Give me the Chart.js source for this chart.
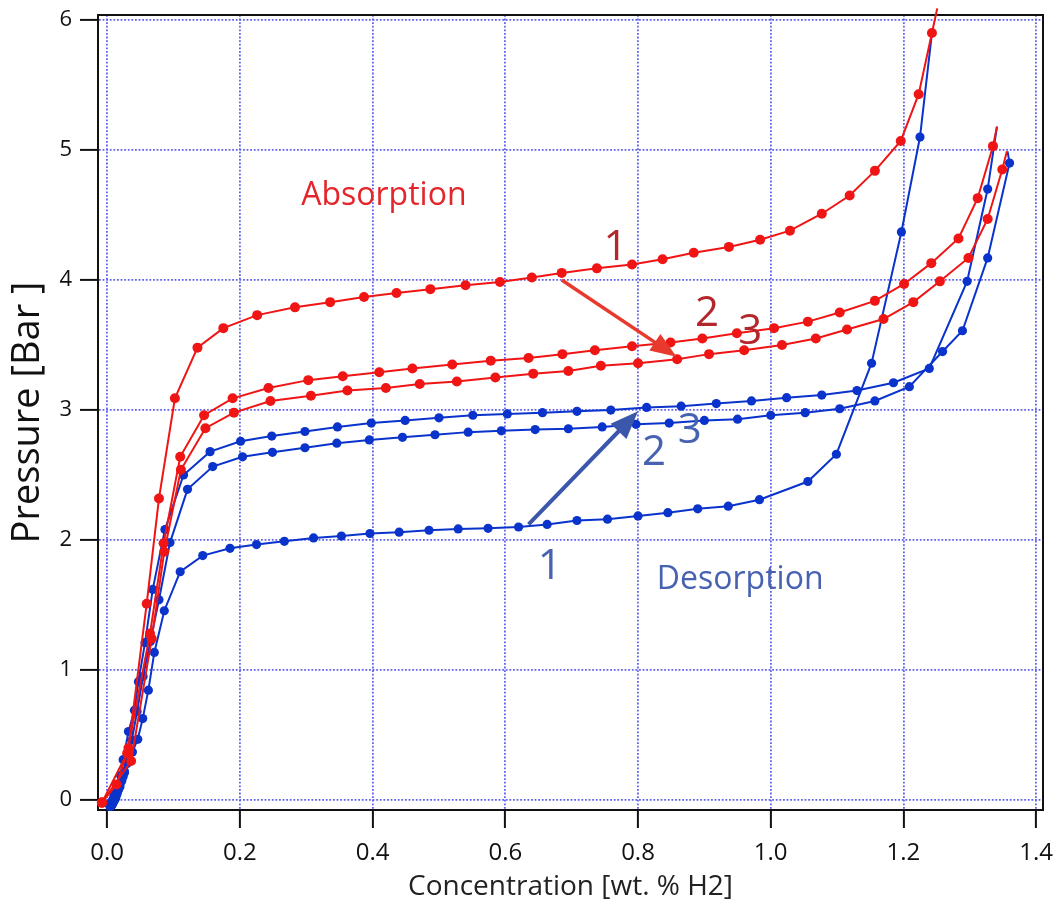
<!DOCTYPE html>
<html><head><meta charset="utf-8">
<script src="https://cdn.jsdelivr.net/npm/chart.js@4/dist/chart.umd.min.js"></script>
<style>html,body{margin:0;padding:0;background:#fff;}#wrap{width:1055px;height:905px;position:relative;}</style>
</head><body><div id="wrap"><canvas id="c"></canvas></div>
<script>
// ---- tick labels ----
const xTicks = [0, 0.2, 0.4, 0.6, 0.8, 1.0, 1.2, 1.4];
const yTicks = [0, 1, 2, 3, 4, 5, 6];

// ---- series values [concentration wt.% H2, pressure bar] ----
const absorption1 = [[-0.008,-0.02],[0.014,0.12],[0.032,0.40],[0.0595,1.51],[0.078,2.32],[0.102,3.09],[0.136,3.48],[0.175,3.63],[0.226,3.73],[0.283,3.79],[0.336,3.83],[0.387,3.87],[0.436,3.90],[0.487,3.93],[0.540,3.96],[0.592,3.985],[0.640,4.02],[0.685,4.055],[0.738,4.09],[0.791,4.12],[0.837,4.16],[0.884,4.21],[0.937,4.255],[0.984,4.31],[1.029,4.38],[1.077,4.51],[1.119,4.65],[1.157,4.84],[1.196,5.07],[1.223,5.43],[1.243,5.90],[1.251,6.09]];
const absorption2 = [[-0.008,-0.02],[0.030,0.36],[0.0645,1.28],[0.085,1.975],[0.110,2.64],[0.146,2.96],[0.189,3.09],[0.243,3.17],[0.303,3.23],[0.355,3.26],[0.410,3.29],[0.460,3.32],[0.520,3.35],[0.578,3.38],[0.635,3.40],[0.686,3.43],[0.735,3.46],[0.791,3.49],[0.849,3.52],[0.897,3.55],[0.949,3.59],[1.005,3.63],[1.056,3.68],[1.104,3.75],[1.157,3.84],[1.201,3.97],[1.242,4.13],[1.283,4.32],[1.312,4.63],[1.335,5.03],[1.341,5.18]];
const absorption3 = [[-0.008,-0.02],[0.036,0.30],[0.067,1.24],[0.086,1.91],[0.111,2.54],[0.148,2.86],[0.191,2.98],[0.246,3.07],[0.307,3.11],[0.362,3.15],[0.420,3.17],[0.471,3.20],[0.527,3.22],[0.585,3.25],[0.642,3.28],[0.695,3.30],[0.744,3.34],[0.800,3.36],[0.859,3.39],[0.907,3.43],[0.960,3.46],[1.017,3.50],[1.068,3.55],[1.115,3.62],[1.170,3.70],[1.215,3.83],[1.255,3.99],[1.298,4.17],[1.327,4.47],[1.349,4.85],[1.356,4.99]];
const desorption1 = [[0.004,-0.05],[0.006,-0.04],[0.008,-0.03],[0.010,-0.01],[0.012,0.01],[0.014,0.04],[0.016,0.07],[0.019,0.10],[0.022,0.15],[0.026,0.21],[0.030,0.28],[0.038,0.37],[0.046,0.467],[0.0535,0.626],[0.062,0.845],[0.071,1.135],[0.086,1.456],[0.110,1.756],[0.144,1.88],[0.185,1.936],[0.225,1.965],[0.267,1.99],[0.311,2.016],[0.353,2.03],[0.396,2.05],[0.440,2.06],[0.485,2.075],[0.529,2.085],[0.574,2.09],[0.620,2.10],[0.663,2.12],[0.708,2.15],[0.754,2.16],[0.800,2.185],[0.845,2.21],[0.890,2.24],[0.936,2.26],[0.983,2.31],[1.056,2.45],[1.099,2.66],[1.152,3.36],[1.197,4.37],[1.225,5.10],[1.243,5.90]];
const desorption2 = [[0.004,-0.04],[0.006,-0.02],[0.008,0.00],[0.010,0.03],[0.012,0.05],[0.014,0.08],[0.016,0.11],[0.020,0.19],[0.024,0.31],[0.032,0.526],[0.041,0.69],[0.047,0.91],[0.057,1.21],[0.0686,1.62],[0.087,2.08],[0.115,2.50],[0.155,2.68],[0.201,2.76],[0.248,2.80],[0.298,2.835],[0.347,2.87],[0.398,2.90],[0.449,2.92],[0.500,2.94],[0.551,2.96],[0.603,2.97],[0.656,2.98],[0.708,2.99],[0.759,3.00],[0.813,3.02],[0.865,3.03],[0.918,3.05],[0.971,3.07],[1.024,3.095],[1.077,3.115],[1.130,3.15],[1.185,3.21],[1.239,3.32],[1.296,3.99],[1.327,4.70],[1.341,5.18]];
const desorption3 = [[0.005,-0.05],[0.007,-0.04],[0.009,-0.02],[0.011,0.00],[0.013,0.02],[0.015,0.05],[0.017,0.08],[0.019,0.11],[0.021,0.14],[0.024,0.18],[0.026,0.22],[0.031,0.32],[0.037,0.46],[0.045,0.68],[0.054,0.95],[0.065,1.22],[0.078,1.54],[0.0946,1.98],[0.121,2.39],[0.159,2.565],[0.204,2.64],[0.249,2.675],[0.298,2.71],[0.346,2.745],[0.395,2.77],[0.445,2.79],[0.494,2.81],[0.544,2.83],[0.594,2.84],[0.645,2.85],[0.695,2.856],[0.746,2.87],[0.797,2.89],[0.847,2.90],[0.900,2.92],[0.950,2.93],[1.000,2.96],[1.052,2.98],[1.104,3.01],[1.157,3.07],[1.209,3.18],[1.259,3.45],[1.289,3.61],[1.327,4.17],[1.360,4.90],[1.357,4.99]];

// ---- annotation texts and arrows (data coordinates) ----
const absorptionLabels = [['Absorption',0.417,4.65],['1',0.766,4.25],['2',0.904,3.74],['3',0.969,3.60]];
const desorptionLabels = [['Desorption',0.954,1.69],['1',0.667,1.79],['2',0.824,2.67],['3',0.878,2.835]];
const absorptionArrow = [[0.685,4.00],[0.858,3.41]];
const desorptionArrow = [[0.635,2.12],[0.800,2.99]];

const RED = '#f01515', BLUE = '#0a33cc';
const FONT = "'Open Sans', 'Noto Sans', sans-serif";
const toXY = a => a.map(p => ({x: p[0], y: p[1]}));
const lastNoMarker = r => ctx => ctx.dataIndex === ctx.dataset.data.length - 1 ? 0 : r;

function series(data, color, r) {
  return {data: toXY(data), showLine: true, borderColor: color, backgroundColor: color,
    borderWidth: 2, pointRadius: lastNoMarker(r), pointBorderWidth: 0, pointHoverRadius: 0,
    tension: 0, clip: false};
}

const framePlugin = {
  id: 'frame',
  beforeDatasetsDraw(chart) {
    const {ctx, chartArea: a} = chart;
    ctx.save(); ctx.strokeStyle = '#111'; ctx.lineWidth = 2;
    ctx.strokeRect(a.left, a.top, a.right - a.left, a.bottom - a.top);
    ctx.restore();
  }
};

function drawArrow(ctx, x1, y1, x2, y2, color, w, hl, hw) {
  const ang = Math.atan2(y2 - y1, x2 - x1);
  const bx = x2 - hl * Math.cos(ang), by = y2 - hl * Math.sin(ang);
  ctx.strokeStyle = color; ctx.fillStyle = color; ctx.lineWidth = w; ctx.lineCap = 'butt';
  ctx.beginPath(); ctx.moveTo(x1, y1); ctx.lineTo(bx + 2*Math.cos(ang), by + 2*Math.sin(ang)); ctx.stroke();
  ctx.beginPath(); ctx.moveTo(x2, y2);
  ctx.lineTo(bx + hw/2 * Math.sin(ang), by - hw/2 * Math.cos(ang));
  ctx.lineTo(bx - hw/2 * Math.sin(ang), by + hw/2 * Math.cos(ang));
  ctx.closePath(); ctx.fill();
}

const annotPlugin = {
  id: 'annot',
  afterDatasetsDraw(chart) {
    const {ctx, scales: {x, y}} = chart;
    ctx.save();
    const px = v => x.getPixelForValue(v), py = v => y.getPixelForValue(v);
    drawArrow(ctx, px(absorptionArrow[0][0]), py(absorptionArrow[0][1]), px(absorptionArrow[1][0]), py(absorptionArrow[1][1]), '#e8392e', 3.5, 26, 20);
    drawArrow(ctx, px(desorptionArrow[0][0]), py(desorptionArrow[0][1]), px(desorptionArrow[1][0]), py(desorptionArrow[1][1]), '#3b57ab', 4, 28, 22);
    ctx.textAlign = 'center'; ctx.textBaseline = 'middle';
    absorptionLabels.forEach((t, i) => {
      ctx.fillStyle = i === 0 ? '#e3262b' : '#b3262c';
      ctx.font = (i === 0 ? '32px ' : '42px ') + FONT;
      ctx.fillText(t[0], px(t[1]), py(t[2]));
    });
    desorptionLabels.forEach((t, i) => {
      ctx.fillStyle = '#4862b2';
      ctx.font = (i === 0 ? '32px ' : '42px ') + FONT;
      ctx.fillText(t[0], px(t[1]), py(t[2]));
    });
    ctx.restore();
  }
};

const gridCommon = {color: '#6262ee', lineWidth: 1.8, tickColor: '#111', tickWidth: 2, tickLength: 18, drawTicks: true};
const borderCommon = {display: true, color: '#111', width: 2, dash: [1.8, 1.8]};

new Chart(document.getElementById('c'), {
  type: 'scatter',
  data: {datasets: [
    series(absorption1, RED, 5), series(absorption2, RED, 5), series(absorption3, RED, 5),
    series(desorption1, BLUE, 4.6), series(desorption2, BLUE, 4.6), series(desorption3, BLUE, 4.6)
  ]},
  options: {
    responsive: true, maintainAspectRatio: false, animation: false,
    layout: {padding: {top: 15, right: 12, left: 0, bottom: 0}},
    plugins: {legend: {display: false}, tooltip: {enabled: false}},
    events: [],
    scales: {
      x: {
        type: 'linear', min: -0.0139, max: 1.4104,
        afterBuildTicks: s => { s.ticks = xTicks.map(v => ({value: v})); },
        afterFit: s => { s.height = 95; s.paddingLeft = 0; s.paddingRight = 0; },
        ticks: {color: '#111', font: {family: FONT, size: 24}, padding: 11, callback: v => Number(v).toFixed(1), maxRotation: 0, autoSkip: false},
        grid: gridCommon, border: borderCommon,
        title: {display: true, text: 'Concentration [wt. % H2]', color: '#222', font: {family: FONT, size: 28, lineHeight: 1.2}, padding: {top: 0, bottom: 1}}
      },
      y: {
        type: 'linear', min: -0.077, max: 6.039,
        afterBuildTicks: s => { s.ticks = yTicks.map(v => ({value: v})); },
        afterFit: s => { s.width = 98; s.paddingTop = 0; s.paddingBottom = 0; },
        ticks: {color: '#111', font: {family: FONT, size: 22}, padding: 8, callback: v => String(v), autoSkip: false},
        grid: gridCommon, border: borderCommon,
        title: {display: true, text: 'Pressure [Bar ]', color: '#111', font: {family: FONT, size: 38, lineHeight: 1.0}, padding: {top: 9, bottom: 0}}
      }
    }
  },
  plugins: [framePlugin, annotPlugin]
});
</script>
</body></html>
